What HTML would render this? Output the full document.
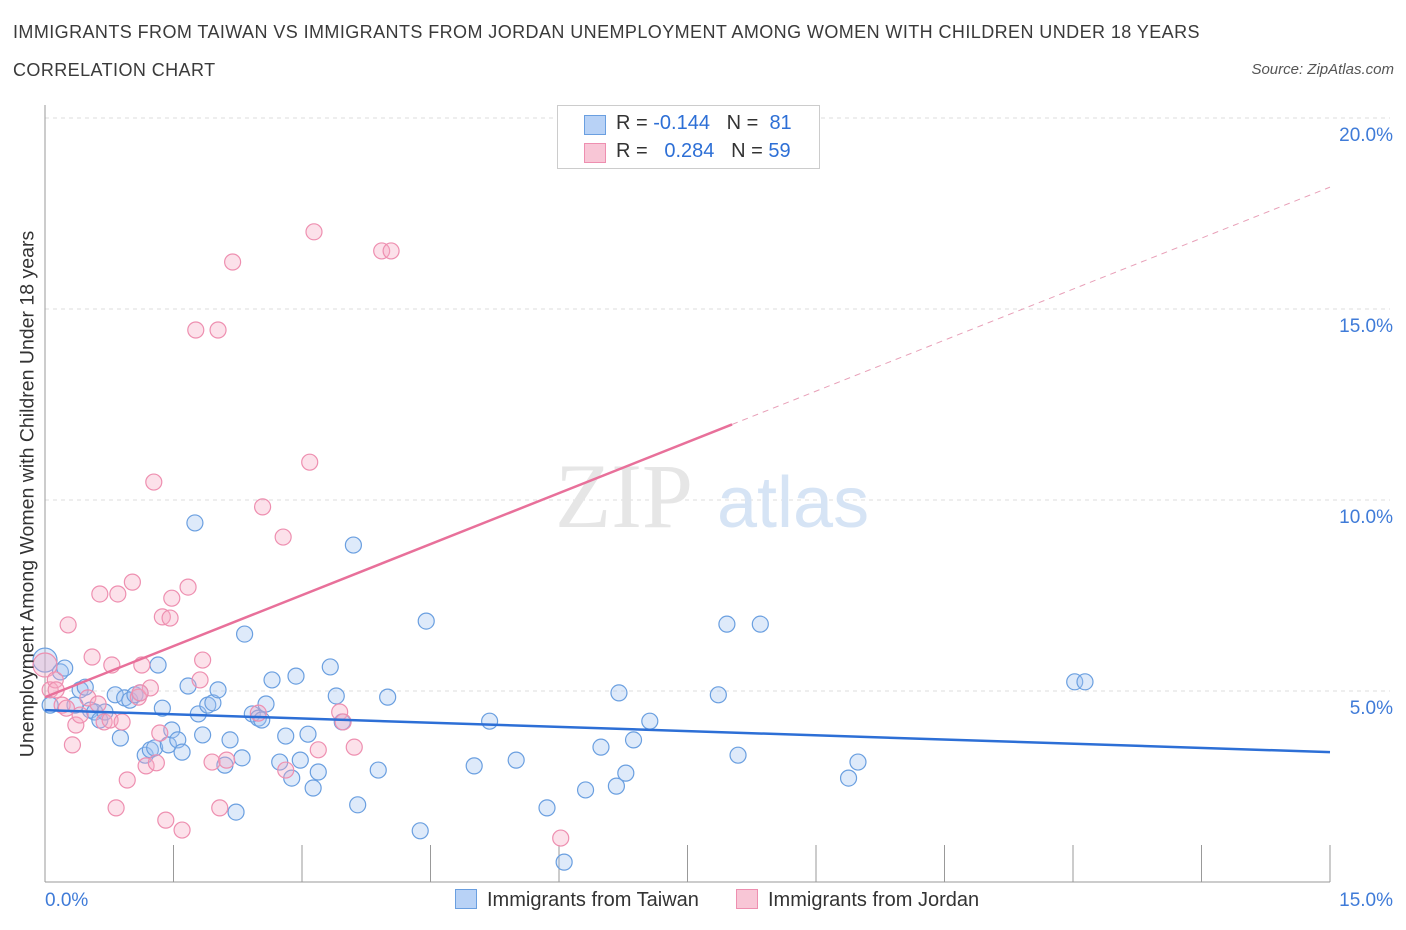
<!DOCTYPE html>
<html><head><meta charset="utf-8">
<style>
body{margin:0;width:1406px;height:930px;background:#fff;font-family:"Liberation Sans",sans-serif;overflow:hidden;position:relative}
.t{position:absolute;white-space:nowrap}
</style></head><body>
<div class="t" style="left:13px;top:22px;font-size:18px;color:#3a3a3a;letter-spacing:0.42px">IMMIGRANTS FROM TAIWAN VS IMMIGRANTS FROM JORDAN UNEMPLOYMENT AMONG WOMEN WITH CHILDREN UNDER 18 YEARS</div>
<div class="t" style="left:13px;top:60px;font-size:18px;color:#3a3a3a;letter-spacing:0.42px">CORRELATION CHART</div>
<div class="t" style="right:12px;top:61px;font-size:15px;color:#555;font-style:italic">Source: ZipAtlas.com</div>
<svg id="chart" width="1406" height="930" style="position:absolute;left:0;top:0"></svg>
<script>
const xTicks=[0,1.5,3,4.5,6,7.5,9,10.5,12,13.5,15];
const yTicks=[5,10,15,20];
const yTickLabels=["5.0%","10.0%","15.0%","20.0%"];
const taiwanX=[0,.06,.18,.23,.35,.41,.47,.53,.58,.64,.70,.82,.88,.93,.99,1.05,1.11,1.17,1.23,1.28,1.32,1.37,1.44,1.48,1.55,1.60,1.67,1.75,1.79,1.84,1.90,1.96,2.02,2.10,2.16,2.23,2.30,2.33,2.42,2.49,2.53,2.58,2.65,2.74,2.81,2.88,2.93,2.98,3.07,3.13,3.19,3.33,3.40,3.47,3.60,3.65,3.89,4.00,4.38,4.45,5.01,5.19,5.50,5.86,6.06,6.31,6.49,6.67,6.70,6.78,6.87,7.06,7.86,7.96,8.09,8.35,9.38,9.49,12.02,12.14];
const taiwanY=[5.81,4.63,5.50,5.60,4.63,5.03,5.10,4.50,4.45,4.24,4.45,4.90,3.77,4.82,4.76,4.90,4.95,3.32,3.46,3.51,5.68,4.55,3.59,3.98,3.72,3.40,5.13,9.40,4.40,3.85,4.63,4.69,5.03,3.06,3.72,1.83,3.25,6.49,4.40,4.29,4.24,4.66,5.29,3.14,3.82,2.72,5.39,3.19,3.87,2.46,2.88,5.63,4.87,4.19,8.82,2.02,2.93,4.84,1.34,6.83,3.04,4.21,3.19,1.94,0.52,2.41,3.53,2.51,4.95,2.85,3.72,4.21,4.90,6.75,3.32,6.75,2.72,3.14,5.24,5.24];
const jordanX=[0,.06,.12,.20,.27,.32,.36,.41,.50,.55,.62,.64,.69,.76,.78,.83,.85,.90,.96,1.02,1.09,1.13,1.18,1.23,1.27,1.30,1.34,1.37,1.41,1.46,1.48,1.60,1.67,1.76,1.81,1.84,1.95,2.02,2.04,2.12,2.19,2.49,2.54,2.78,2.81,3.09,3.14,3.19,3.44,3.48,3.61,3.93,4.04,6.02,.13,.25,1.11];
const jordanY=[5.68,5.03,5.29,4.63,6.73,3.59,4.11,4.37,4.82,5.89,4.66,7.54,4.19,4.24,5.68,1.94,7.54,4.19,2.67,7.85,4.84,5.68,3.04,5.08,10.47,3.12,3.90,6.94,1.62,6.91,7.43,1.36,7.72,14.45,5.29,5.81,3.14,14.45,1.94,3.19,16.23,4.42,9.82,9.03,2.93,10.99,17.02,3.46,4.45,4.19,3.53,16.52,16.52,1.15,5.03,4.55,4.95];
const taiwanLine=[4.5,3.4];
const jordanLine=[4.84,0.89]; // intercept, slope
const NS='http://www.w3.org/2000/svg';
const svg=document.getElementById('chart');
const X=v=>45+v*(1285/15);
const Y=v=>882-v*38.2;
function el(tag,attrs,parent){const e=document.createElementNS(NS,tag);for(const k in attrs)e.setAttribute(k,attrs[k]);(parent||svg).appendChild(e);return e;}
yTicks.forEach((v,i)=>{
 const g=el('line',{x1:45,x2:1390,y1:Y(v),y2:Y(v),stroke:'#ddd','stroke-dasharray':'4,4'});
 
 
 const t=el('text',{x:1393,y:Y(v)+23,'text-anchor':'end','font-size':19,fill:'#3f7bd8'});
 t.textContent=yTickLabels[i];
 
 
});
const wm=el('text',{x:555,y:527,'font-size':92,fill:'#e6e6e6','font-family':'Liberation Serif, serif'});wm.textContent='ZIP';


const wm2=el('text',{x:717,y:527,'font-size':72,fill:'#d6e4f5'});wm2.textContent='atlas';


const ax=el('line',{x1:45,x2:45,y1:105,y2:882,stroke:'#999'});


const bx=el('line',{x1:45,x2:1330,y1:882,y2:882,stroke:'#999'});


xTicks.forEach(v=>{const t=el('line',{x1:X(v),x2:X(v),y1:845,y2:882,stroke:'#999'});
 
 });
function pts(xs,ys,fill,stroke,name){xs.forEach((x,i)=>{const c=el('circle',{cx:X(x),cy:Y(ys[i]),r:i==0?12:8,fill:fill,stroke:stroke,'stroke-width':1.2});
 
 });}
pts(taiwanX,taiwanY,'rgba(160,195,240,0.35)','#6a9fe0','taiwan-point');
pts(jordanX,jordanY,'rgba(245,170,195,0.35)','#ee8fb0','jordan-point');
const bl=el('line',{x1:X(0),y1:Y(taiwanLine[0]),x2:X(15),y2:Y(taiwanLine[1]),stroke:'#2d6fd6','stroke-width':2.5});


const xe=8.02;
const pl=el('line',{x1:X(0),y1:Y(jordanLine[0]),x2:X(xe),y2:Y(jordanLine[0]+jordanLine[1]*xe),stroke:'#e8709a','stroke-width':2.5});


const pd=el('line',{x1:X(xe),y1:Y(jordanLine[0]+jordanLine[1]*xe),x2:X(15),y2:Y(jordanLine[0]+jordanLine[1]*15),stroke:'#e8a0b8','stroke-width':1,'stroke-dasharray':'6,5'});


</script>
<div class="t" style="left:45px;top:890px;font-size:19px;color:#3f7bd8">0.0%</div>
<div class="t" style="right:13px;top:890px;font-size:19px;color:#3f7bd8">15.0%</div>
<div class="t" style="left:28px;top:494px;font-size:19.5px;color:#333;transform:translate(-50%,-50%) rotate(-90deg)">Unemployment Among Women with Children Under 18 years</div>
<div style="position:absolute;left:557px;top:105px;width:261px;height:62px;border:1px solid #ccc;background:#fff;font-size:20px;color:#333">
 <div style="position:absolute;left:26px;top:9px;width:20px;height:18px;background:#b8d2f6;border:1px solid #6a9fe0"></div>
 <div class="t" style="left:58px;top:6px">R = <span style="color:#2d6fd6">-0.144</span>&nbsp;&nbsp;&nbsp;N = &nbsp;<span style="color:#2d6fd6">81</span></div>
 <div style="position:absolute;left:26px;top:37px;width:20px;height:18px;background:#f8c6d6;border:1px solid #ee8fb0"></div>
 <div class="t" style="left:58px;top:34px">R = &nbsp;&nbsp;<span style="color:#2d6fd6">0.284</span>&nbsp;&nbsp;&nbsp;N = <span style="color:#2d6fd6">59</span></div>
</div>
<div class="t" style="left:455px;top:889px;font-size:20px;color:#333"><span style="display:inline-block;width:20px;height:18px;background:#b8d2f6;border:1px solid #6a9fe0;vertical-align:-3px;margin-right:10px"></span>Immigrants from Taiwan</div>
<div class="t" style="left:736px;top:889px;font-size:20px;color:#333"><span style="display:inline-block;width:20px;height:18px;background:#f8c6d6;border:1px solid #ee8fb0;vertical-align:-3px;margin-right:10px"></span>Immigrants from Jordan</div>
</body></html>
